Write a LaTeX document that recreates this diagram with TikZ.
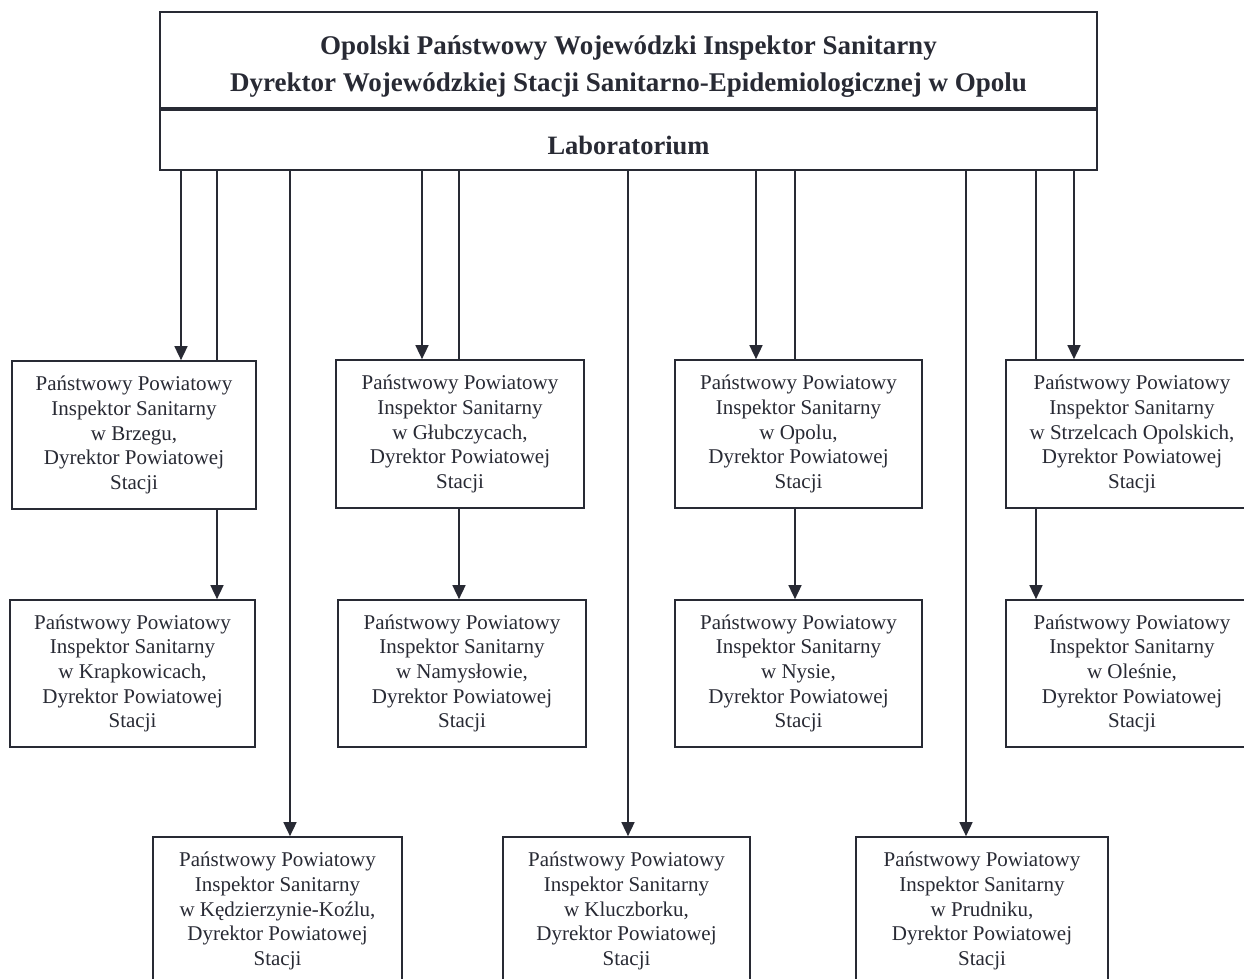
\documentclass[tikz,border=0pt]{standalone}
\usepackage{fontspec}
\setmainfont{Liberation Serif}
\usetikzlibrary{arrows.meta}
\definecolor{ink}{RGB}{40,42,52}
\begin{document}
\begin{tikzpicture}[x=1pt,y=-1pt,
  line width=1.7pt, draw=ink,
  box/.style={draw=ink, line width=1.7pt, rectangle, inner sep=0pt, align=center,
    text=ink, font=\fontsize{21}{24.6}\selectfont},
  head/.style={inner sep=0pt, align=center, text=ink},
  arr/.style={draw=ink, line width=1.6pt, -{Triangle[width=13pt,length=14pt]}},
  ln/.style={draw=ink, line width=1.6pt}]
\useasboundingbox (0,0) rectangle (1244,979);
\clip (0,0) rectangle (1244,979);
\fill[white] (0,0) rectangle (1244,979);

% top box
\node[box, minimum width=937pt, minimum height=96pt] (top) at (628.5,60) {};
\node[box, minimum width=937pt, minimum height=60pt, anchor=north] (lab) at (top.south) {};
\node[head, font=\fontsize{27}{37}\selectfont\bfseries] (toptext) at ([yshift=-7pt]top.center)
  {Opolski Państwowy Wojewódzki Inspektor Sanitarny\\Dyrektor Wojewódzkiej Stacji Sanitarno-Epidemiologicznej w Opolu};
\node[head, font=\fontsize{26.5}{30}\selectfont\bfseries] (labtext) at ([yshift=-6pt]lab.center)
  {Laboratorium};

% row 1
\node[box, minimum width=244pt, minimum height=148pt] (brz) at (134,435)
  {Państwowy Powiatowy\\Inspektor Sanitarny\\w Brzegu,\\Dyrektor Powiatowej\\Stacji};
\node[box, minimum width=248pt, minimum height=148pt] (glu) at (460,434)
  {Państwowy Powiatowy\\Inspektor Sanitarny\\w Głubczycach,\\Dyrektor Powiatowej\\Stacji};
\node[box, minimum width=247pt, minimum height=148pt] (opo) at (798.5,434)
  {Państwowy Powiatowy\\Inspektor Sanitarny\\w Opolu,\\Dyrektor Powiatowej\\Stacji};
\node[box, minimum width=252pt, minimum height=148pt] (strz) at (1132,434)
  {Państwowy Powiatowy\\Inspektor Sanitarny\\w Strzelcach Opolskich,\\Dyrektor Powiatowej\\Stacji};

% row 2
\node[box, minimum width=245pt, minimum height=147pt] (kra) at (132.5,673.5)
  {Państwowy Powiatowy\\Inspektor Sanitarny\\w Krapkowicach,\\Dyrektor Powiatowej\\Stacji};
\node[box, minimum width=248pt, minimum height=147pt] (nam) at (462,673.5)
  {Państwowy Powiatowy\\Inspektor Sanitarny\\w Namysłowie,\\Dyrektor Powiatowej\\Stacji};
\node[box, minimum width=247pt, minimum height=147pt] (nys) at (798.5,673.5)
  {Państwowy Powiatowy\\Inspektor Sanitarny\\w Nysie,\\Dyrektor Powiatowej\\Stacji};
\node[box, minimum width=252pt, minimum height=147pt] (ole) at (1132,673.5)
  {Państwowy Powiatowy\\Inspektor Sanitarny\\w Oleśnie,\\Dyrektor Powiatowej\\Stacji};

% row 3
\node[box, minimum width=249pt, minimum height=148pt] (kk) at (277.5,911)
  {Państwowy Powiatowy\\Inspektor Sanitarny\\w Kędzierzynie-Koźlu,\\Dyrektor Powiatowej\\Stacji};
\node[box, minimum width=247pt, minimum height=148pt] (klu) at (626.5,911)
  {Państwowy Powiatowy\\Inspektor Sanitarny\\w Kluczborku,\\Dyrektor Powiatowej\\Stacji};
\node[box, minimum width=252pt, minimum height=148pt] (pru) at (982,911)
  {Państwowy Powiatowy\\Inspektor Sanitarny\\w Prudniku,\\Dyrektor Powiatowej\\Stacji};

% x positions of connectors
\coordinate (x1) at (181,0);
\coordinate (x2) at (217,0);
\coordinate (x3) at (290,0);
\coordinate (x4) at (422,0);
\coordinate (x5) at (459,0);
\coordinate (x6) at (628,0);
\coordinate (x7) at (756,0);
\coordinate (x8) at (795,0);
\coordinate (x9) at (966,0);
\coordinate (x10) at (1036,0);
\coordinate (x11) at (1074,0);

% connectors
\draw[arr] (lab.south -| x1) -- (brz.north -| x1);
\draw[ln]  (lab.south -| x2) -- (brz.north -| x2);
\draw[arr] (brz.south -| x2) -- (kra.north -| x2);
\draw[arr] (lab.south -| x3) -- (kk.north -| x3);
\draw[arr] (lab.south -| x4) -- (glu.north -| x4);
\draw[ln]  (lab.south -| x5) -- (glu.north -| x5);
\draw[arr] (glu.south -| x5) -- (nam.north -| x5);
\draw[arr] (lab.south -| x6) -- (klu.north -| x6);
\draw[arr] (lab.south -| x7) -- (opo.north -| x7);
\draw[ln]  (lab.south -| x8) -- (opo.north -| x8);
\draw[arr] (opo.south -| x8) -- (nys.north -| x8);
\draw[arr] (lab.south -| x9) -- (pru.north -| x9);
\draw[ln]  (lab.south -| x10) -- (strz.north -| x10);
\draw[arr] (strz.south -| x10) -- (ole.north -| x10);
\draw[arr] (lab.south -| x11) -- (strz.north -| x11);
\end{tikzpicture}
\end{document}
